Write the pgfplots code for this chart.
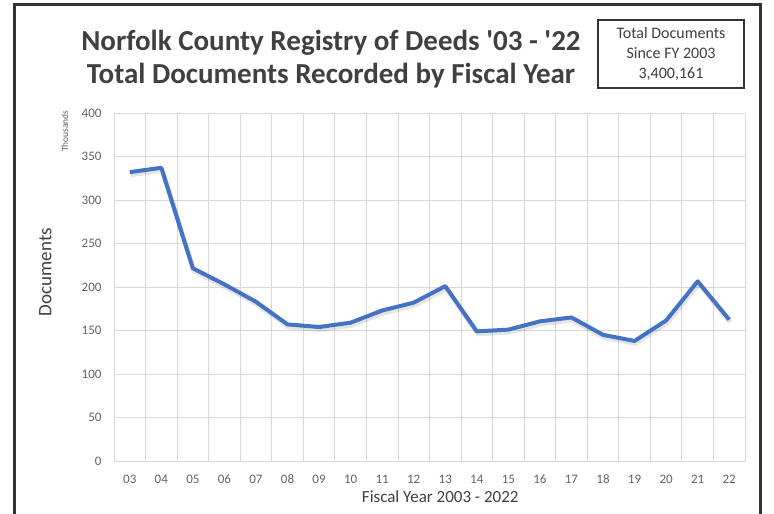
\documentclass[border=0pt]{standalone}
\usepackage{pgfplots}
\pgfplotsset{compat=1.18}
\usepackage{fontspec}
\setmainfont{Carlito}
\definecolor{lineblue}{RGB}{68,114,196}
\definecolor{gridgray}{RGB}{217,217,217}
\definecolor{ticktxt}{RGB}{100,100,100}
\definecolor{titletxt}{RGB}{64,64,64}
\begin{document}
\begin{tikzpicture}
\useasboundingbox (0pt,0pt) rectangle (774pt,514pt);
\fill[white] (0pt,0pt) rectangle (774pt,514pt);
\draw[line width=3pt,black!80] (14pt,0pt) -- (14pt,509pt) -- (760pt,509pt) -- (760pt,0pt);
\node[font=\bfseries\fontsize{29}{33}\selectfont,text=titletxt,align=center] at (331pt,455pt) {Norfolk County Registry of Deeds \textquotesingle03 - \textquotesingle22\\Total Documents Recorded by Fiscal Year};
\node[draw=black!80,line width=1.3pt,minimum width=146pt,minimum height=68pt,font=\fontsize{16}{20}\selectfont,align=center,text=titletxt] at (671pt,460pt) {Total Documents\\Since FY 2003\\3,400,161};
\begin{axis}[
  at={(114pt,53pt)}, anchor=south west,
  scale only axis, width=631pt, height=348pt,
  xmin=-0.5, xmax=19.5, ymin=0, ymax=400,
  xtick={0,...,19},
  xticklabels={03,04,05,06,07,08,09,10,11,12,13,14,15,16,17,18,19,20,21,22},
  minor xtick={-0.5,0.5,...,19.5},
  ytick={0,50,...,400},
  xminorgrids=true, ymajorgrids=true,
  grid style={gridgray, line width=0.9pt},
  minor grid style={gridgray, line width=0.9pt},
  axis line style={gridgray, line width=0.9pt},
  major tick length=0pt, minor tick length=0pt,
  tick label style={font=\fontsize{13}{15}\selectfont, text=ticktxt},
  /pgf/number format/assume math mode=true,
  xticklabel style={anchor=center, yshift=-18pt},
  yticklabel style={anchor=east, xshift=-9pt},
  xlabel={Fiscal Year 2003 - 2022},
  ylabel={Documents},
  xlabel style={font=\fontsize{17}{19}\selectfont, text=titletxt, at={(axis description cs:0.517,-0.103)}, anchor=center},
  ylabel style={font=\fontsize{19}{21}\selectfont, text=titletxt, at={(axis description cs:-0.109,0.543)}, anchor=center},
  clip=false,
]
\addplot[lineblue, line width=4pt, line join=round,
  preaction={draw, black, opacity=0.10, line width=5pt, transform canvas={xshift=1pt,yshift=-2.5pt}}] coordinates {
(0,332) (1,337) (2,221.5) (3,203) (4,183) (5,157) (6,154) (7,159) (8,173) (9,182) (10,201) (11,149) (12,151) (13,160.5) (14,165) (15,145) (16,138) (17,161.5) (18,206.5) (19,162.5)
};
\node[rotate=90,font=\fontsize{9.5}{11}\selectfont,text=ticktxt] at (axis description cs:-0.078,0.948) {Thousands};
\end{axis}
\end{tikzpicture}
\end{document}
